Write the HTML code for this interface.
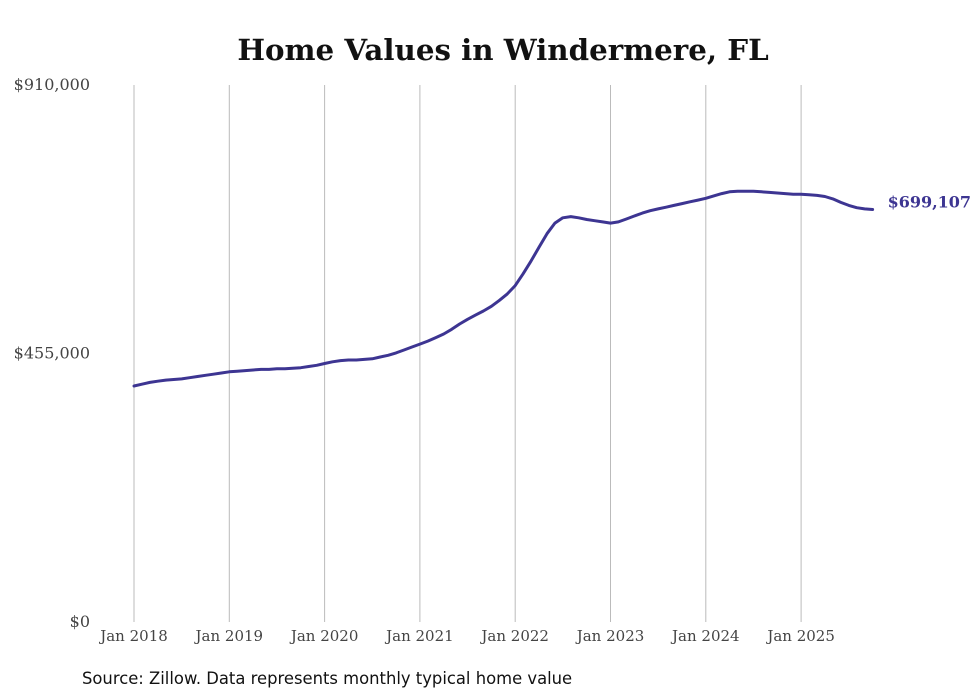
<!DOCTYPE html>
<html><head><meta charset="utf-8"><style>
body{margin:0;background:#fff;}
svg{display:block;}
</style></head><body>
<svg id="chart" width="980" height="699" viewBox="0 0 980 699" xmlns="http://www.w3.org/2000/svg">
<rect width="980" height="699" fill="#fff"/>
<text x="503" y="60" text-anchor="middle" font-family="'DejaVu Serif', serif" font-weight="bold" font-size="29.3" fill="#111">Home Values in Windermere, FL</text>
<g id="grid"></g>
<g id="yaxis"></g>
<g id="xaxis"></g>
<path id="line" fill="none" stroke="#3d3592" stroke-width="3" stroke-linejoin="round" stroke-linecap="round"/>
<text id="endlabel" font-family="'DejaVu Serif', serif" font-weight="bold" font-size="16" fill="#3d3592"></text>
<text x="82" y="684" font-family="'DejaVu Sans', sans-serif" font-size="16.4" fill="#111">Source: Zillow. Data represents monthly typical home value</text>
</svg>
<script>
const yearLabels = ["Jan 2018","Jan 2019","Jan 2020","Jan 2021","Jan 2022","Jan 2023","Jan 2024","Jan 2025"];
const yTicks = [0, 455000, 910000];
const yTickLabels = ["$0","$455,000","$910,000"];
const startYear = 2018;
const values = [
400000,403000,406000,408000,410000,411000,412000,414000,416000,418000,420000,422000,
424000,425000,426000,427000,428000,428000,429000,429000,430000,431000,433000,435000,
438000,441000,443000,444000,444000,445000,446000,449000,452000,456000,461000,466000,
471000,476000,482000,488000,496000,505000,513000,520000,527000,535000,545000,556000,
570000,590000,612000,635000,658000,676000,685000,687000,685000,682000,680000,678000,
676000,678000,683000,688000,693000,697000,700000,703000,706000,709000,712000,715000,
718000,722000,726000,729000,730000,730000,730000,729000,728000,727000,726000,725000,
725000,724000,723000,721000,717000,711000,706000,702000,700000,699107
];
const NS="http://www.w3.org/2000/svg";
const x = t => 134 + (t - startYear) * 95.3;
const y = v => 622 - v / 910000 * 537;
const grid=document.getElementById('grid'), xa=document.getElementById('xaxis'), ya=document.getElementById('yaxis');
yearLabels.forEach((lab,i)=>{
  const gx=x(startYear+i);
  const l=document.createElementNS(NS,'line');
  
  
  l.setAttribute('x1',gx);l.setAttribute('x2',gx);l.setAttribute('y1',85);l.setAttribute('y2',622);
  l.setAttribute('stroke','#bbb');l.setAttribute('stroke-width','1');
  grid.appendChild(l);
  const t=document.createElementNS(NS,'text');
  
  
  t.setAttribute('x',gx);t.setAttribute('y',641);t.setAttribute('text-anchor','middle');
  t.setAttribute('font-family',"'DejaVu Serif', serif");t.setAttribute('font-size','15');t.setAttribute('fill','#444');
  t.textContent=lab;xa.appendChild(t);
});
yTicks.forEach((v,i)=>{
  const t=document.createElementNS(NS,'text');
  
  
  t.setAttribute('x',90);t.setAttribute('y',y(v)+5);t.setAttribute('text-anchor','end');
  t.setAttribute('font-family',"'DejaVu Serif', serif");t.setAttribute('font-size','16');t.setAttribute('fill','#444');
  t.textContent=yTickLabels[i];ya.appendChild(t);
});
let d='';
values.forEach((v,i)=>{d+=(i?'L':'M')+x(startYear+i/12).toFixed(1)+','+y(v).toFixed(1);});
document.getElementById('line').setAttribute('d',d);
const last=values[values.length-1], lx=x(startYear+(values.length-1)/12);
const el=document.getElementById('endlabel');
el.setAttribute('x',lx+15);el.setAttribute('y',y(last)-2);
el.textContent='$'+Math.round(last).toLocaleString('en-US');
</script>
</body></html>
